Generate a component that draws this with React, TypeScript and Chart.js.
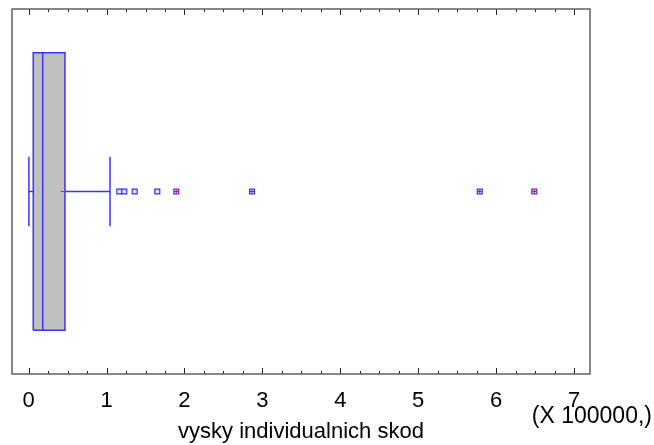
import React, { useEffect, useRef } from 'react';
import { Chart, registerables } from 'chart.js';

Chart.register(...registerables);

// ---- data (values in currency units; axis shows them in units of 100000) ----
const axisTitle = 'vysky individualnich skod';
const axisUnitLabel = '(X 100000,)';
const tickValues = [0, 100000, 200000, 300000, 400000, 500000, 600000, 700000];
const minorTickValues = [
  25000, 50000, 75000, 125000, 150000, 175000, 225000, 250000, 275000,
  325000, 350000, 375000, 425000, 450000, 475000, 525000, 550000, 575000,
  625000, 650000, 675000,
];
const axisRange = [-21400, 720500];
const boxQuartiles = [5900, 18000, 46600]; // Q1, median, Q3
const whiskerEnds = [300, 104400]; // lower, upper whisker
const meanValues = [43100];
const mildOutliers = [116300, 122700, 136100, 165100];
const farOutliers = [189500, 286700, 579000, 649000];

// vertical placement of the single horizontal box (y axis 0..1, hidden)
const Y_MID = 0.5;
const Y_BOX_LO = 0.12;
const Y_BOX_HI = 0.88;
const Y_CAP_LO = 0.405;
const Y_CAP_HI = 0.595;

const BLUE = 'rgb(52,52,255)';
const FONT = "'Liberation Sans', Arial, sans-serif";

const framePlugin = {
  id: 'frameAndTicks',
  afterDraw(chart: any) {
    const { ctx, chartArea } = chart;
    const xs = chart.scales.x;
    const { left, right, top, bottom } = chartArea;
    ctx.save();
    // inward ticks, top and bottom
    ctx.strokeStyle = '#222';
    ctx.lineWidth = 1;
    const drawTick = (v: number, len: number) => {
      const px = Math.round(xs.getPixelForValue(v)) + 0.5;
      ctx.beginPath();
      ctx.moveTo(px, bottom);
      ctx.lineTo(px, bottom - len);
      ctx.moveTo(px, top);
      ctx.lineTo(px, top + len);
      ctx.stroke();
    };
    tickValues.forEach((v) => drawTick(v, 6));
    minorTickValues.forEach((v) => drawTick(v, 3));
    // frame
    ctx.strokeStyle = '#606060';
    ctx.lineWidth = 1.5;
    ctx.strokeRect(left, top, right - left, bottom - top);
    // unit label
    ctx.fillStyle = '#000';
    ctx.font = `23px ${FONT}`;
    ctx.textAlign = 'right';
    ctx.textBaseline = 'alphabetic';
    ctx.fillText(axisUnitLabel, 652, 423);
    ctx.restore();
  },
};

export default function App() {
  const ref = useRef<HTMLCanvasElement | null>(null);

  useEffect(() => {
    if (!ref.current) return;
    const [q1, med, q3] = boxQuartiles;
    const [wLo, wHi] = whiskerEnds;
    const lineDs = (data: any[], extra: any = {}) => ({
      type: 'scatter',
      data,
      showLine: true,
      borderColor: BLUE,
      borderWidth: 1.5,
      pointRadius: 0,
      fill: false,
      ...extra,
    });

    const chart = new Chart(ref.current, {
      type: 'scatter',
      data: {
        datasets: [
          {
            data: farOutliers.map((x) => ({ x, y: Y_MID })),
            pointStyle: 'cross',
            pointRadius: 2,
            borderColor: 'rgb(255,0,0)',
            borderWidth: 1,
            order: 0,
          },
          {
            data: [...mildOutliers, ...farOutliers].map((x) => ({ x, y: Y_MID })),
            pointStyle: 'rect',
            pointRadius: 3.5,
            backgroundColor: 'rgba(225,225,255,1)',
            borderColor: BLUE,
            borderWidth: 1.2,
            order: 1,
          },
          {
            data: meanValues.map((x) => ({ x, y: Y_MID })),
            pointStyle: 'line',
            pointRadius: 1.5,
            borderColor: 'rgb(255,0,0)',
            borderWidth: 1,
            order: 2,
          },
          lineDs([{ x: wLo, y: Y_MID }, { x: q1, y: Y_MID }], { order: 3 }),
          lineDs([{ x: q3, y: Y_MID }, { x: wHi, y: Y_MID }], { order: 3 }),
          lineDs([{ x: wLo, y: Y_CAP_LO }, { x: wLo, y: Y_CAP_HI }], { order: 3 }),
          lineDs([{ x: wHi, y: Y_CAP_LO }, { x: wHi, y: Y_CAP_HI }], { order: 3 }),
          lineDs([{ x: med, y: Y_BOX_LO }, { x: med, y: Y_BOX_HI }], { order: 4 }),
          lineDs(
            [
              { x: q1, y: Y_BOX_LO },
              { x: q3, y: Y_BOX_LO },
              { x: q3, y: Y_BOX_HI },
              { x: q1, y: Y_BOX_HI },
              { x: q1, y: Y_BOX_LO },
            ],
            { fill: 'shape', backgroundColor: '#c0c0c0', order: 5 }
          ),
        ] as any,
      },
      options: {
        responsive: false,
        animation: false,
        devicePixelRatio: 1,
        layout: { padding: { left: 12, right: 64, top: 9, bottom: 0 } },
        plugins: {
          legend: { display: false },
          tooltip: { enabled: false },
        },
        scales: {
          x: {
            type: 'linear',
            min: axisRange[0],
            max: axisRange[1],
            afterBuildTicks: (scale: any) => {
              scale.ticks = tickValues.map((value) => ({ value }));
            },
            afterFit: (scale: any) => {
              scale.height = 71;
            },
            grid: { display: false, drawTicks: false },
            border: { display: false },
            ticks: {
              color: '#000',
              padding: 14,
              maxRotation: 0,
              autoSkip: false,
              font: { family: FONT, size: 22 },
              callback: (v: any) => String(Number(v) / 100000),
            },
            title: {
              display: true,
              text: axisTitle,
              color: '#000',
              font: { family: FONT, size: 22 },
              padding: { top: 0, bottom: 0 },
            },
          },
          y: {
            type: 'linear',
            display: false,
            min: 0,
            max: 1,
          },
        },
      } as any,
      plugins: [framePlugin],
    });
    return () => chart.destroy();
  }, []);

  return (
    <div style={{ position: 'fixed', left: 0, top: 0, width: 654, height: 445, background: '#fff' }}>
      <canvas ref={ref} width={654} height={445} />
    </div>
  );
}
